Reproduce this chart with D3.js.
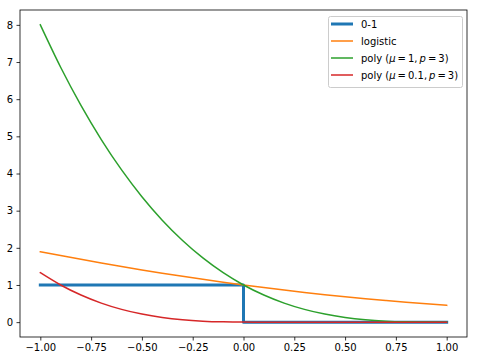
<!DOCTYPE html>
<html>
<head>
<meta charset="utf-8">
<script src="https://cdn.jsdelivr.net/npm/d3@7"></script>
<style>
  body { margin: 0; background: #fff; }
  svg { font-family: "DejaVu Sans", sans-serif; }
</style>
</head>
<body>
<svg width="477" height="361"></svg>
<script>
var xs = [-1, -0.9, -0.8, -0.7, -0.6, -0.5, -0.4, -0.3, -0.2, -0.1, 0,
          0.1, 0.2, 0.3, 0.4, 0.5, 0.6, 0.7, 0.8, 0.9, 1];
var stepX = [-1, 0, 0, 1];
var stepY = [1, 1, 0, 0];
var logistic = [1.894, 1.791, 1.690, 1.592, 1.497, 1.405, 1.317, 1.233, 1.152, 1.074, 1,
                0.930, 0.863, 0.800, 0.740, 0.684, 0.631, 0.582, 0.535, 0.492, 0.452];
var polyA = [8, 6.859, 5.832, 4.913, 4.096, 3.375, 2.744, 2.197, 1.728, 1.331, 1,
             0.729, 0.512, 0.343, 0.216, 0.125, 0.064, 0.027, 0.008, 0.001, 0];
var polyB = [1.331, 1.0, 0.729, 0.512, 0.343, 0.216, 0.125, 0.064, 0.027, 0.008, 0.001,
             0, 0, 0, 0, 0, 0, 0, 0, 0, 0];
var xTicks = [-1, -0.75, -0.5, -0.25, 0, 0.25, 0.5, 0.75, 1];
var yTicks = [0, 1, 2, 3, 4, 5, 6, 7, 8];

var svg = d3.select("svg");
var mLeft = 20, mRight = 467, mTop = 10, mBottom = 337;

var x = d3.scaleLinear().domain([-1.1, 1.1]).range([mLeft, mRight]);
var y = d3.scaleLinear().domain([-0.4, 8.4]).range([mBottom, mTop]);

var th = "\u2009";
var series = [
  { name: "0-1", color: "#1f77b4", width: 3, pts: stepX.map(function (v, i) { return [v, stepY[i]]; }), curve: d3.curveLinear },
  { name: "logistic", color: "#ff7f0e", width: 1.5, pts: xs.map(function (v, i) { return [v, logistic[i]]; }), curve: d3.curveMonotoneX },
  { name: "poly", label: ["poly (", "μ", th + "=" + th + "1,", "p", th + "=" + th + "3)"], color: "#2ca02c", width: 1.5, pts: xs.map(function (v, i) { return [v, polyA[i]]; }), curve: d3.curveMonotoneX },
  { name: "poly2", label: ["poly (", "μ", th + "=" + th + "0.1,", "p", th + "=" + th + "3)"], color: "#d62728", width: 1.5, pts: xs.map(function (v, i) { return [v, polyB[i]]; }), curve: d3.curveMonotoneX }
];

svg.append("defs").append("clipPath").attr("id", "clip")
  .append("rect").attr("x", mLeft).attr("y", mTop)
  .attr("width", mRight - mLeft).attr("height", mBottom - mTop);

var g = svg.append("g").attr("clip-path", "url(#clip)");
series.forEach(function (s) {
  var line = d3.line()
    .x(function (d) { return x(d[0]); })
    .y(function (d) { return y(d[1]); })
    .curve(s.curve);
  g.append("path")
    .attr("d", line(s.pts))
    .attr("fill", "none")
    .attr("stroke", s.color)
    .attr("stroke-width", s.width)
    .attr("stroke-linejoin", "round")
    .attr("stroke-linecap", "square");
});

// axes
var xAxis = svg.append("g").attr("transform", "translate(0," + mBottom + ")")
  .call(d3.axisBottom(x).tickValues(xTicks).tickSize(3.5).tickPadding(3.5)
    .tickFormat(function (d) { return d3.format(".2f")(d).replace("-", "\u2212"); }));
var yAxis = svg.append("g").attr("transform", "translate(" + mLeft + ",0)")
  .call(d3.axisLeft(y).tickValues(yTicks).tickSize(3.5).tickPadding(3.5).tickFormat(d3.format("d")));
[xAxis, yAxis].forEach(function (a) {
  a.select(".domain").remove();
  a.selectAll("line").attr("stroke", "#000").attr("stroke-width", 0.8);
  a.selectAll("text").attr("fill", "#000").style("font-size", "10px").style("font-family", "DejaVu Sans");
});

svg.append("rect")
  .attr("x", mLeft).attr("y", mTop)
  .attr("width", mRight - mLeft).attr("height", mBottom - mTop)
  .attr("fill", "none").attr("stroke", "#000").attr("stroke-width", 0.8);

// legend
var lg = svg.append("g").attr("transform", "translate(328,16)");
lg.append("rect")
  .attr("x", 0.5).attr("y", 0.5).attr("width", 134).attr("height", 71).attr("rx", 2)
  .attr("fill", "#fff").attr("fill-opacity", 0.8)
  .attr("stroke", "#cccccc").attr("stroke-width", 1);
series.forEach(function (s, i) {
  var yy = 8 + i * 17;
  lg.append("line")
    .attr("x1", 3).attr("x2", 25).attr("y1", yy).attr("y2", yy)
    .attr("stroke", s.color).attr("stroke-width", s.width);
  var t = lg.append("text").attr("x", 33).attr("y", yy + 3.5)
    .style("font-size", "10px").attr("fill", "#000");
  if (s.label) {
    s.label.forEach(function (part, j) {
      var ts = t.append("tspan").text(part);
      if (j === 1 || j === 3) ts.style("font-style", "italic");
      if (j === 3) ts.attr("dx", 2);
    });
  } else {
    t.text(s.name);
  }
});
</script>
</body>
</html>
